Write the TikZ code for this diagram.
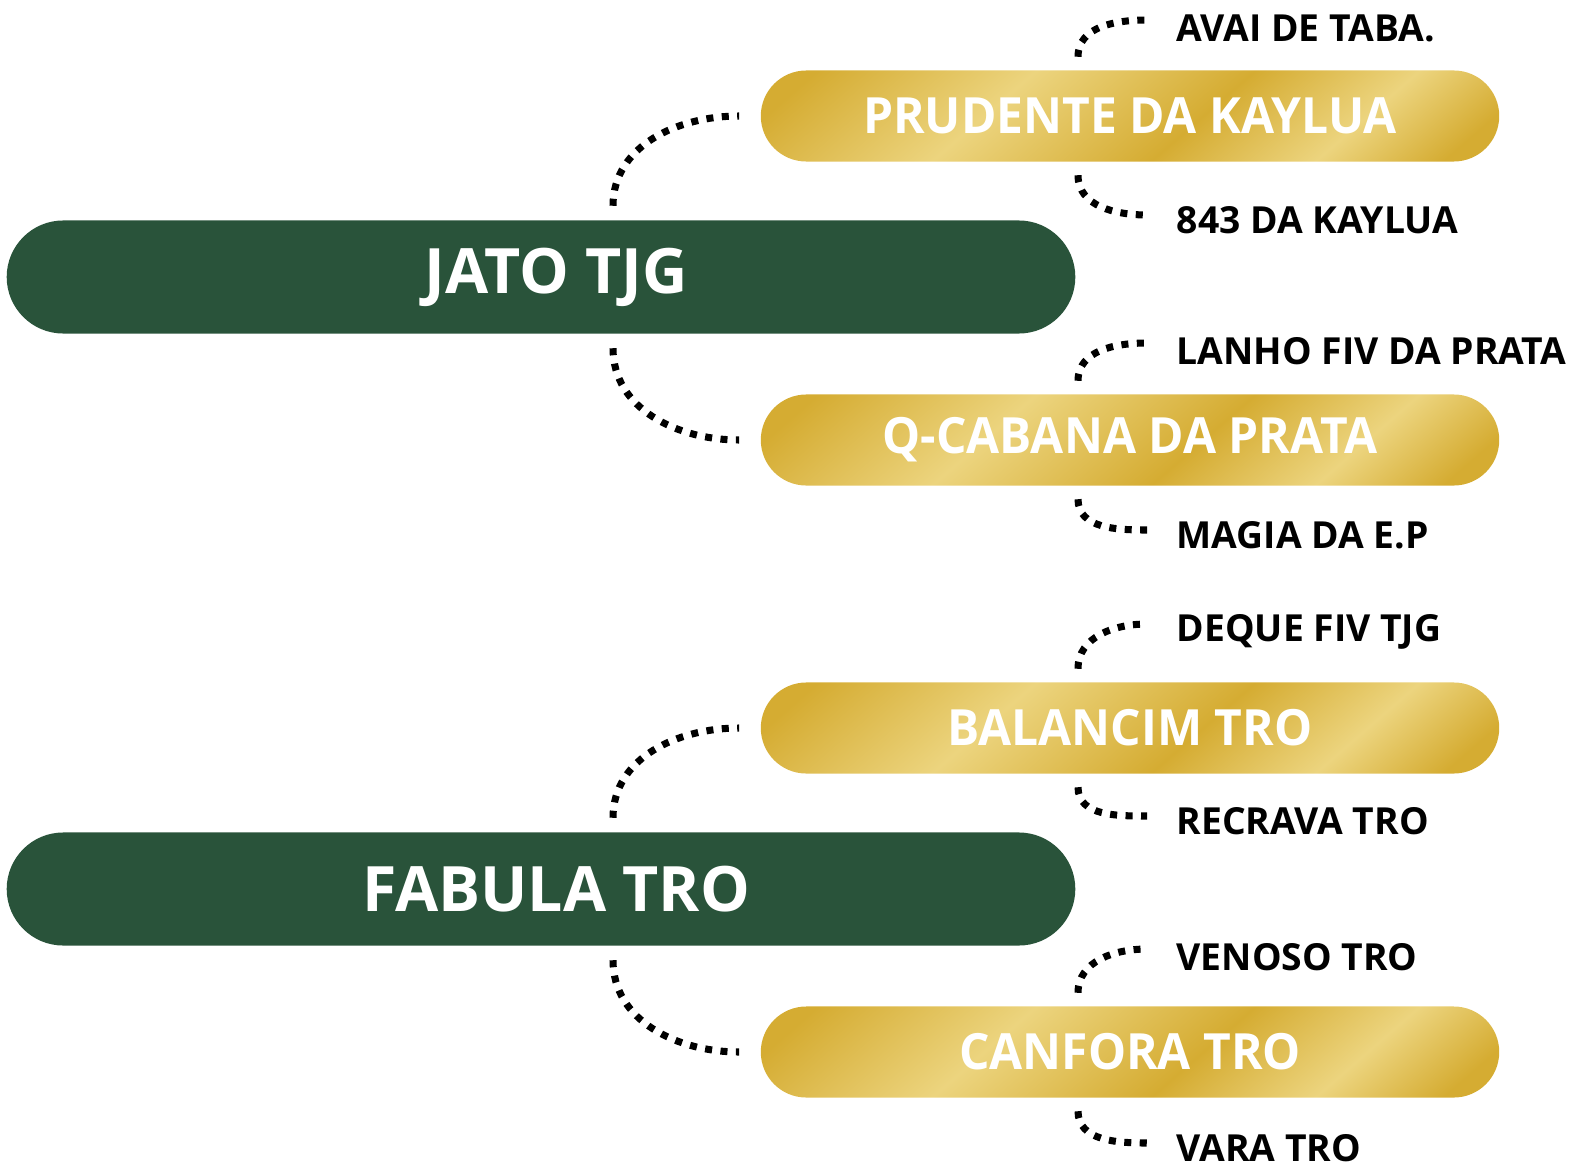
\documentclass[tikz,border=0pt]{standalone}
\usepackage{fontspec}
\setmainfont{Open Sans}
\newfontfamily\goldfont{Open Sans}[FakeStretch=0.96]
\usetikzlibrary{calc}

\definecolor{jatogreen}{RGB}{41,83,58}
\definecolor{golddark}{RGB}{213,172,50}
\definecolor{goldlight}{RGB}{236,212,126}
\pgfdeclarehorizontalshading{goldband}{100bp}{color(0bp)=(golddark); color(40bp)=(golddark);
  color(46bp)=(goldlight); color(52bp)=(golddark); color(56.5bp)=(goldlight);
  color(60bp)=(golddark); color(100bp)=(golddark)}

\begin{document}
\begin{tikzpicture}[x=0.01cm, y=-0.01cm,
    mainbox/.style={fill=jatogreen, text=white, rounded corners=0.565cm,
        minimum width=10.68cm, minimum height=1.13cm, inner sep=0pt,
        font=\bfseries\fontsize{17.8}{21}\selectfont},
    subbox/.style={text=white, rounded corners=0.455cm,
        minimum width=7.38cm, minimum height=0.91cm, inner sep=0pt,
        font=\goldfont\bfseries\fontsize{14.2}{17}\selectfont,
        path picture={\shade[shading=goldband, shading angle=-49]
            ($(path picture bounding box.center)+(-600,-600)$) rectangle +(1200,1200);}},
    leaf/.style={anchor=west, inner sep=0pt, font=\bfseries\fontsize{10.6}{13}\selectfont},
    dotlink/.style={line width=2pt, dash pattern=on 2pt off 2.4pt}]

    \useasboundingbox (0,0) rectangle (1582,1173);

    % green main boxes
    \node[mainbox] (jato) at (541,277) {\hspace*{0.3cm}JATO TJG};
    \node[mainbox] (fabula) at (541,889) {\hspace*{0.3cm}FABULA TRO};

    % gold boxes
    \node[subbox] (prudente) at (1130,116) {PRUDENTE DA KAYLUA};
    \node[subbox] (cabana) at (1130,440) {Q-CABANA DA PRATA};
    \node[subbox] (balancim) at (1130,728) {BALANCIM TRO};
    \node[subbox] (canfora) at (1130,1052) {CANFORA TRO};

    % leaf labels
    \node[leaf] (avai) at (1176,28) {AVAI DE TABA.};
    \node[leaf] (kaylua) at (1176,220) {843 DA KAYLUA};
    \node[leaf] (lanho) at (1176,351) {LANHO FIV DA PRATA};
    \node[leaf] (magia) at (1176,535) {MAGIA DA E.P};
    \node[leaf] (deque) at (1176,632) {DEQUE FIV TJG};
    \node[leaf] (recrava) at (1176,821) {RECRAVA TRO};
    \node[leaf] (venoso) at (1176,957) {VENOSO TRO};
    \node[leaf] (vara) at (1176,1148) {VARA TRO};

    % dotted links from green boxes
    \draw[dotlink] ($(jato.north)+(72,-14)$) to[out=90,in=180] ($(prudente.west)+(-21,0)$);
    \draw[dotlink] ($(jato.south)+(72,14)$) to[out=-90,in=180] ($(cabana.west)+(-21,0)$);
    \draw[dotlink] ($(fabula.north)+(72,-14)$) to[out=90,in=180] ($(balancim.west)+(-21,0)$);
    \draw[dotlink] ($(fabula.south)+(72,14)$) to[out=-90,in=180] ($(canfora.west)+(-21,0)$);

    % dotted links from gold boxes
    \draw[dotlink] ($(prudente.north)+(-52,-13)$) to[out=90,in=180] ($(avai.west)+(-29,-8)$);
    \draw[dotlink] ($(prudente.south)+(-52,13)$) to[out=-90,in=180] ($(kaylua.west)+(-29,-5)$);
    \draw[dotlink] ($(cabana.north)+(-52,-13)$) to[out=90,in=180] ($(lanho.west)+(-29,-8)$);
    \draw[dotlink] ($(cabana.south)+(-52,13)$) to[out=-90,in=180] ($(magia.west)+(-29,-5)$);
    \draw[dotlink] ($(balancim.north)+(-52,-13)$) to[out=90,in=180] ($(deque.west)+(-29,-8)$);
    \draw[dotlink] ($(balancim.south)+(-52,13)$) to[out=-90,in=180] ($(recrava.west)+(-29,-5)$);
    \draw[dotlink] ($(canfora.north)+(-52,-13)$) to[out=90,in=180] ($(venoso.west)+(-29,-8)$);
    \draw[dotlink] ($(canfora.south)+(-52,13)$) to[out=-90,in=180] ($(vara.west)+(-29,-5)$);

\end{tikzpicture}
\end{document}
